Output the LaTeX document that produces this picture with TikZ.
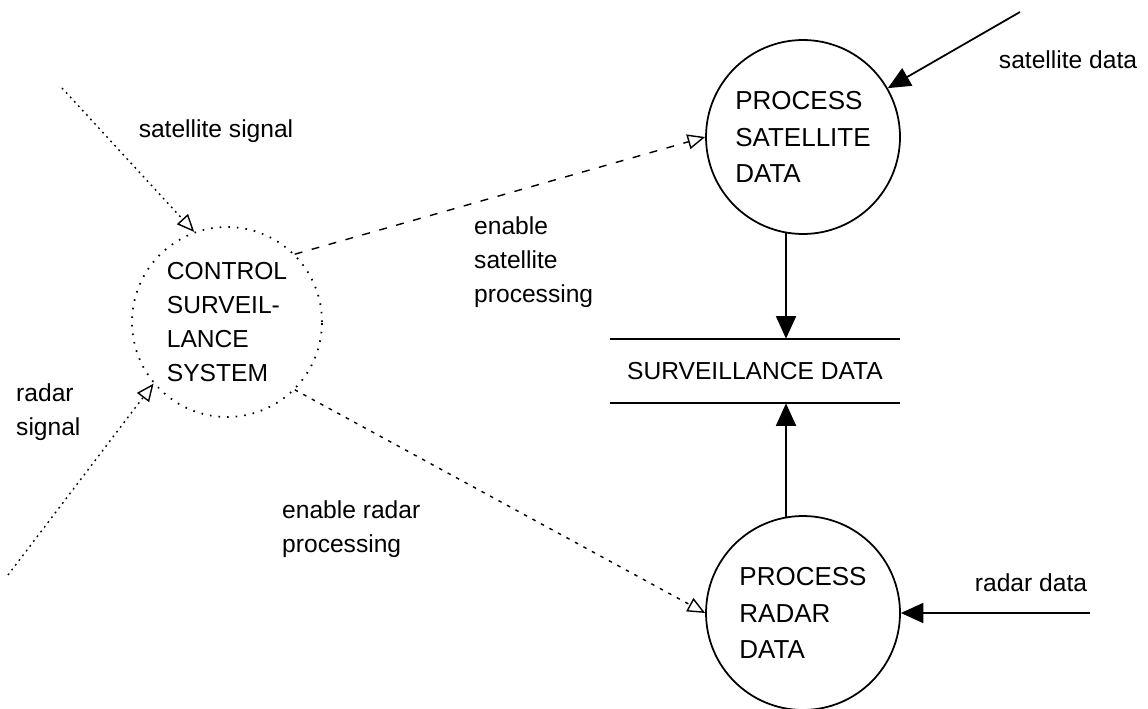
\documentclass[tikz,border=0pt]{standalone}
\usepackage{fontspec}
\setmainfont{Liberation Sans}
\usepackage{tikz}
\usetikzlibrary{arrows.meta, positioning}

\begin{document}
\begin{tikzpicture}[
  x=0.02cm, y=-0.02cm,
  every node/.style={font=\fontsize{14}{19.5}\selectfont},
  proc/.style={draw, circle, line width=1pt, minimum size=3.88cm, inner sep=0pt, align=left,
    font=\fontsize{14.8}{21}\selectfont},
  ctrlproc/.style={draw, circle, dash pattern=on 0.9pt off 4pt, line width=1pt, minimum size=3.8cm, inner sep=0pt, align=left},
  store/.style={minimum width=5.8cm, minimum height=1.28cm, inner sep=0pt},
  label/.style={align=left},
  arrow/.style={line width=1pt, -{Triangle[length=4.5mm, width=4mm]}},
  ctrlarrow/.style={line width=0.8pt, -{Triangle[open, length=3.5mm, width=3mm]}},
  sigline/.style={ctrlarrow, dash pattern=on 1pt off 2.4pt},
  enableline/.style={ctrlarrow, dash pattern=on 4.5pt off 5.5pt},
  radarline/.style={ctrlarrow, dash pattern=on 2pt off 3.5pt}
]
\useasboundingbox (0,0) rectangle (1148,709);

% Nodes
\node[ctrlproc] (ctrl) at (227,322) {CONTROL\\SURVEIL-\\LANCE\\SYSTEM};
\node[proc] (sat) at (803,137) {PROCESS\\SATELLITE\\DATA};
\node[proc] (rad) at (803,613) {PROCESS\\RADAR\\DATA};
\node[store] (data) at (755,371) {SURVEILLANCE DATA};
\draw[line width=1pt] (data.north west) -- (data.north east);
\draw[line width=1pt] (data.south west) -- (data.south east);
\coordinate (satin) at (1020,12);
\coordinate (radin) at (1090,613);
\coordinate (satsig) at (62,88);
\coordinate (radsig) at (8,575);
% Labels
\node[label] (lsatsig) at (216,131) {satellite signal};
\node[label] (lsatin) at (1068,60) {satellite data};
\node[label] (lradin) at (1031,583) {radar data};
\node[label, anchor=west] (lradsig) at (10,412) {radar\\signal};
\node[label, anchor=west] (lensat) at (468,262) {enable\\satellite\\processing};
\node[label, anchor=west] (lenrad) at (276,529) {enable radar\\processing};
% Pointers
\draw[arrow] (satin) -- (sat);
\draw[arrow] (radin) -- (rad.east);
\draw[arrow] (sat.260) -- (sat.260 |- data.north);
\draw[arrow] (rad.100) -- (rad.100 |- data.south);
\draw[sigline] (satsig) -- (ctrl.110);
\draw[sigline] (radsig) -- (ctrl.220);
\draw[enableline] (ctrl.45) -- (sat.west);
\draw[radarline] (ctrl.-45) -- (rad.west);
\end{tikzpicture}
\end{document}
